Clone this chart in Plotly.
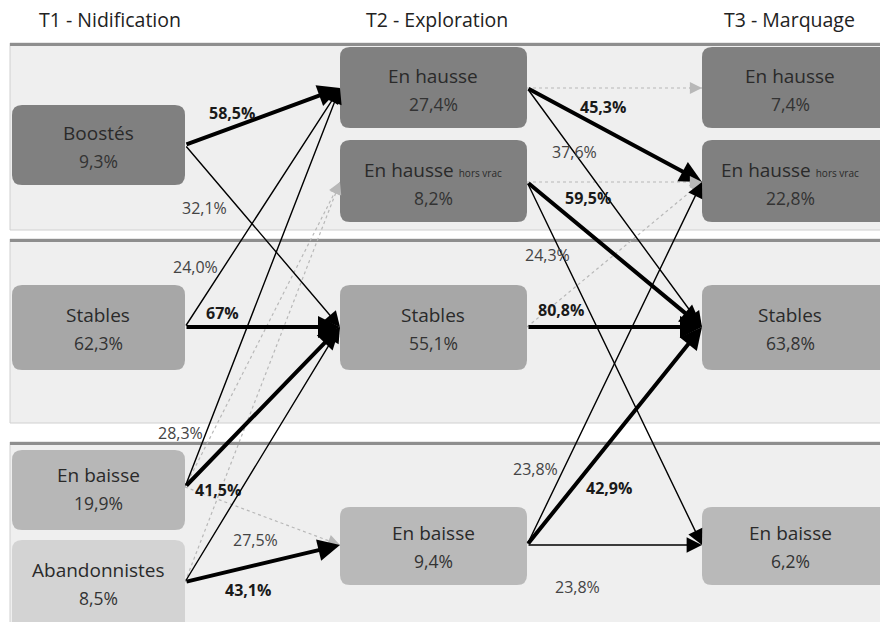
import plotly.graph_objects as go

# ---------------- data ----------------
headers = ["T1 - Nidification", "T2 - Exploration", "T3 - Marquage"]

t1_names = ["Boostés", "Stables", "En baisse", "Abandonnistes"]
t1_shares = ["9,3%", "62,3%", "19,9%", "8,5%"]

t2_names = ["En hausse", "En hausse <span style='font-size:10px'>hors vrac</span>", "Stables", "En baisse"]
t2_shares = ["27,4%", "8,2%", "55,1%", "9,4%"]

t3_names = ["En hausse", "En hausse <span style='font-size:10px'>hors vrac</span>", "Stables", "En baisse"]
t3_shares = ["7,4%", "22,8%", "63,8%", "6,2%"]

# flows T1 -> T2
f12_src = [0, 0, 1, 1, 2, 2, 2, 2, 3, 3, 3]
f12_dst = [0, 2, 0, 2, 0, 2, 1, 3, 1, 2, 3]
f12_pct = ["58,5%", "32,1%", "24,0%", "67%", "28,3%", "41,5%", "", "27,5%", "", "", "43,1%"]
f12_kind = ["strong", "weak", "weak", "strong", "weak", "strong", "dotted", "dotted", "dotted", "weak", "strong"]

# flows T2 -> T3
f23_src = [0, 0, 0, 1, 1, 1, 2, 2, 3, 3, 3]
f23_dst = [0, 1, 2, 1, 2, 3, 1, 2, 1, 2, 3]
f23_pct = ["", "45,3%", "37,6%", "", "59,5%", "24,3%", "", "80,8%", "23,8%", "42,9%", "23,8%"]
f23_kind = ["dotted", "strong", "weak", "dotted", "strong", "weak", "dotted", "strong", "weak", "strong", "weak"]

# ---------------- layout constants ----------------
W, H = 880, 622
FONT = "Open Sans, sans-serif"
col_box_x = [(12, 185), (340, 527), (702, 905)]
col_text_x = [98, 433, 790]
col_head_x = [110, 437, 789]
rows_box_y = [
    [(105, 185), (285, 370), (450, 530), (540, 640)],
    [(47, 128), (140, 222), (285, 370), (507, 585)],
    [(47, 128), (140, 222), (285, 370), (507, 585)],
]
anchor_y = [[145, 327, 487, 582], [88, 182, 327, 545], [88, 182, 327, 545]]
box_fill = [
    ["#808080", "#a7a7a7", "#b7b7b7", "#d3d3d3"],
    ["#808080", "#808080", "#a7a7a7", "#b9b9b9"],
    ["#808080", "#808080", "#a7a7a7", "#b9b9b9"],
]
bands = [(43, 230), (239, 423), (442, 640)]

# label offsets (relative to the source anchor) for each flow
f12_lab = [(47, -32), (19, 63), (10, -60), (37, -14), (-5, -54), (33, 3), (0, 0), (70, 53), (0, 0), (0, 0), (63, 8)]
f23_lab = [(0, 0), (76, 19), (47, 64), (0, 0), (61, 16), (20, 73), (0, 0), (34, -17), (8, -76), (82, -57), (50, 42)]


def rrect(x0, y0, x1, y1, r=10):
    return (f"M{x0+r},{y0} L{x1-r},{y0} Q{x1},{y0} {x1},{y0+r} L{x1},{y1-r} "
            f"Q{x1},{y1} {x1-r},{y1} L{x0+r},{y1} Q{x0},{y1} {x0},{y1-r} "
            f"L{x0},{y0+r} Q{x0},{y0} {x0+r},{y0} Z")


fig = go.Figure()
shapes = []
annotations = []

# background bands
for (y0, y1) in bands:
    shapes.append(dict(type="rect", xref="x", yref="y", x0=10, x1=885, y0=y0, y1=y1,
                       fillcolor="#efefef", line=dict(color="#d0d0d0", width=1), layer="below"))
    shapes.append(dict(type="line", xref="x", yref="y", x0=10, x1=885, y0=y0 + 1.5, y1=y0 + 1.5,
                       line=dict(color="#8e8e8e", width=3), layer="below"))

# headers
for i, h in enumerate(headers):
    annotations.append(dict(x=col_head_x[i], y=19, xref="x", yref="y", text=h, showarrow=False,
                            font=dict(family=FONT, size=19.5, color="#222222")))

# boxes
all_names = [t1_names, t2_names, t3_names]
all_shares = [t1_shares, t2_shares, t3_shares]
for c in range(3):
    x0, x1 = col_box_x[c]
    for r in range(4):
        y0, y1 = rows_box_y[c][r]
        shapes.append(dict(type="path", xref="x", yref="y", path=rrect(x0, y0, x1, y1, 10),
                           fillcolor=box_fill[c][r], line=dict(width=0), layer="above"))
        cy = anchor_y[c][r]
        annotations.append(dict(x=col_text_x[c], y=cy - 12, xref="x", yref="y", text=all_names[c][r],
                                showarrow=False, font=dict(family=FONT, size=19, color="#2a2a2a")))
        annotations.append(dict(x=col_text_x[c], y=cy + 16, xref="x", yref="y", text=all_shares[c][r],
                                showarrow=False, font=dict(family=FONT, size=17.5, color="#333333")))


def add_flows(src, dst, pct, kind, lab, c_from):
    xs = col_box_x[c_from][1]
    xt = col_box_x[c_from + 1][0]
    dot_x, dot_y = [], []
    for s, d, p, k, (dx, dy) in zip(src, dst, pct, kind, lab):
        ys = anchor_y[c_from][s]
        yt = anchor_y[c_from + 1][d]
        if k == "dotted":
            dot_x += [xs, xt, None]
            dot_y += [ys, yt, None]
            L = ((xt - xs) ** 2 + (yt - ys) ** 2) ** 0.5
            ux, uy = (xt - xs) / L, (yt - ys) / L
            annotations.append(dict(x=xt, y=yt, ax=xt - 14 * ux, ay=yt - 14 * uy, xref="x", yref="y",
                                    axref="x", ayref="y", text="", showarrow=True, arrowhead=2,
                                    arrowsize=2.2, arrowwidth=1.1, arrowcolor="#b8b8b8"))
        else:
            w = 4 if k == "strong" else 1.4
            sz = 1.1 if k == "strong" else 2.2
            annotations.append(dict(x=xt, y=yt, ax=xs, ay=ys, xref="x", yref="y", axref="x", ayref="y",
                                    text="", showarrow=True, arrowhead=2, arrowsize=sz, arrowwidth=w,
                                    arrowcolor="#000000"))
        if p:
            strong = k == "strong"
            annotations.append(dict(x=xs + dx, y=ys + dy, xref="x", yref="y",
                                    text=f"<b>{p}</b>" if strong else p, showarrow=False,
                                    font=dict(family=FONT, size=16, color="#1a1a1a" if strong else "#444444")))
    fig.add_trace(go.Scatter(x=dot_x, y=dot_y, mode="lines", hoverinfo="skip",
                             line=dict(color="#b8b8b8", width=1.2, dash="dot"), showlegend=False))


add_flows(f12_src, f12_dst, f12_pct, f12_kind, f12_lab, 0)
add_flows(f23_src, f23_dst, f23_pct, f23_kind, f23_lab, 1)

fig.update_layout(
    width=W, height=H, autosize=False,
    margin=dict(l=0, r=0, t=0, b=0),
    paper_bgcolor="white", plot_bgcolor="white",
    xaxis=dict(range=[0, W], visible=False, fixedrange=True),
    yaxis=dict(range=[H, 0], visible=False, fixedrange=True),
    shapes=shapes, annotations=annotations, showlegend=False, hovermode=False,
)

fig.write_html("out.html", config={"displayModeBar": False},
               post_script="document.body.style.margin='0px';document.body.style.overflow='hidden';")
